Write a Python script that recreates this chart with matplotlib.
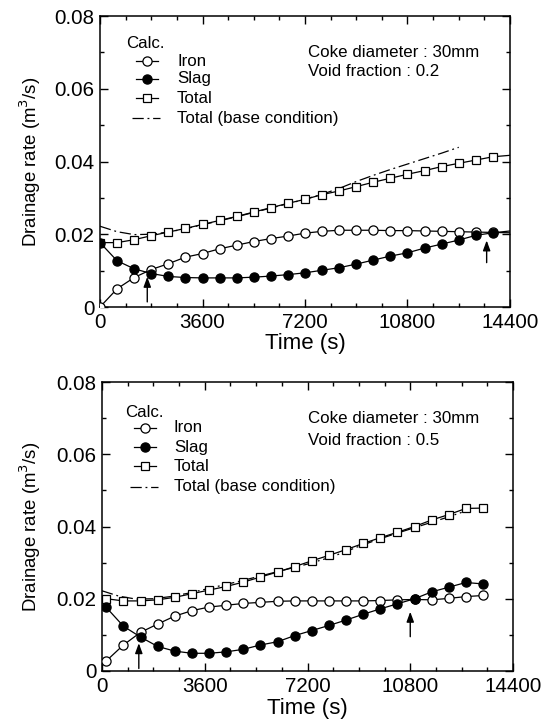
import matplotlib
matplotlib.use("Agg")
import matplotlib.pyplot as plt
from matplotlib.ticker import MultipleLocator, FixedLocator

plt.rcParams['font.family'] = ['Liberation Sans', 'DejaVu Sans']

# ---------------- data ----------------
t_top = [0, 600, 1200, 1800, 2400, 3000, 3600, 4200, 4800, 5400, 6000, 6600, 7200,
         7800, 8400, 9000, 9600, 10200, 10800, 11400, 12000, 12600, 13200, 13800, 14400]
iron_top = [0.0000, 0.0050, 0.0081, 0.0103, 0.0119, 0.0137, 0.0147, 0.0160, 0.0170,
            0.0180, 0.0188, 0.0195, 0.0203, 0.0208, 0.0211, 0.0211, 0.0211, 0.0210,
            0.0210, 0.0209, 0.0208, 0.0207, 0.0206, 0.0205, 0.0204]
slag_top = [0.0177, 0.0127, 0.0105, 0.0092, 0.0084, 0.0081, 0.0080, 0.0080, 0.0080,
            0.0082, 0.0085, 0.0089, 0.0094, 0.0101, 0.0108, 0.0118, 0.0129, 0.0140,
            0.0149, 0.0162, 0.0173, 0.0184, 0.0197, 0.0204, 0.0209]
total_top = [0.0177, 0.0177, 0.0185, 0.0196, 0.0206, 0.0216, 0.0227, 0.0238, 0.0249,
             0.0261, 0.0273, 0.0285, 0.0296, 0.0309, 0.0319, 0.0331, 0.0343, 0.0354,
             0.0365, 0.0375, 0.0386, 0.0395, 0.0404, 0.0413, 0.0417]

t_base = [0, 600, 1200, 1800, 2400, 3000, 3600, 4200, 4800, 5400, 6000, 6600, 7200,
          7800, 8400, 9000, 9600, 10200, 10800, 11400, 12000, 12600]
total_base = [0.0222, 0.0207, 0.0199, 0.0200, 0.0206, 0.0215, 0.0226, 0.0237, 0.0248,
              0.0260, 0.0272, 0.0284, 0.0296, 0.0310, 0.0326, 0.0345, 0.0362, 0.0378,
              0.0393, 0.0408, 0.0423, 0.0439]

t_bot = [150, 750, 1350, 1950, 2550, 3150, 3750, 4350, 4950, 5550, 6150, 6750, 7350,
         7950, 8550, 9150, 9750, 10350, 10950, 11550, 12150, 12750, 13350]
iron_bot = [0.0028, 0.0072, 0.0107, 0.0130, 0.0152, 0.0167, 0.0177, 0.0182, 0.0187,
            0.0190, 0.0193, 0.0194, 0.0194, 0.0194, 0.0194, 0.0194, 0.0195, 0.0197,
            0.0198, 0.0197, 0.0201, 0.0206, 0.0209]
slag_bot = [0.0176, 0.0124, 0.0094, 0.0068, 0.0055, 0.0049, 0.0049, 0.0053, 0.0060,
            0.0072, 0.0081, 0.0098, 0.0112, 0.0126, 0.0141, 0.0157, 0.0172, 0.0186,
            0.0200, 0.0219, 0.0232, 0.0245, 0.0241]
total_bot = [0.0200, 0.0194, 0.0194, 0.0197, 0.0204, 0.0214, 0.0224, 0.0234, 0.0246,
             0.0260, 0.0274, 0.0289, 0.0305, 0.0320, 0.0336, 0.0353, 0.0369, 0.0384,
             0.0400, 0.0418, 0.0433, 0.0450, 0.0451]

# arrows: (time, tail value, head value)
arrows_top = [(1660, 0.0014, 0.0083), (13580, 0.0122, 0.0183)]
arrows_bot = [(1290, 0.0007, 0.0077), (10800, 0.0095, 0.0164)]

x_ticks = [0, 3600, 7200, 10800, 14400]
x_ticklabels = ['0', '3600', '7200', '10800', '14400']
y_ticks = [0, 0.02, 0.04, 0.06, 0.08]
y_ticklabels = ['0', '0.02', '0.04', '0.06', '0.08']

legend_labels = ['Iron', 'Slag', 'Total', 'Total (base condition)']
notes_top = ['Coke diameter : 30mm', 'Void fraction : 0.2']
notes_bot = ['Coke diameter : 30mm', 'Void fraction : 0.5']

# ---------------- figure ----------------
W, H = 555, 727
fig = plt.figure(figsize=(W / 100, H / 100), dpi=100)

ax1 = fig.add_axes([100 / W, 1 - 307 / H, 410 / W, 291 / H])
ax2 = fig.add_axes([102 / W, 1 - 671 / H, 411 / W, 289 / H])

LW = 0.9
MS_C = 6.6
MS_S = 6.4
DASH = (9, 3, 1.5, 3)


def style_axes(ax, xlab_y, ylab_x):
    ax.set_xlim(0, 14400)
    ax.set_ylim(0, 0.08)
    ax.xaxis.set_major_locator(FixedLocator(x_ticks))
    ax.set_xticklabels(x_ticklabels)
    ax.xaxis.set_minor_locator(MultipleLocator(900))
    ax.yaxis.set_major_locator(FixedLocator(y_ticks))
    ax.set_yticklabels(y_ticklabels)
    ax.yaxis.set_minor_locator(MultipleLocator(0.01))
    ax.tick_params(which='both', direction='in', top=True, right=True,
                   width=1.0, labelsize=14.8, colors='black')
    ax.tick_params(which='major', length=5.5, pad=4)
    ax.tick_params(which='minor', length=3)
    for sp in ax.spines.values():
        sp.set_linewidth(1.1)
    ax.set_xlabel('Time (s)', fontsize=16)
    ax.set_ylabel('Drainage rate (m$^3$/s)', fontsize=13.4)
    ax.xaxis.set_label_coords(0.5, xlab_y)
    ax.yaxis.set_label_coords(ylab_x, 0.5)
    ax.xaxis.label.set_va('center')
    ax.yaxis.label.set_va('center')


def draw_series(ax, t, iron, slag, total, n_marks):
    ax.plot(t_base, total_base, color='black', lw=LW, dashes=DASH, zorder=2)
    ax.plot(t, total, color='black', lw=LW, marker='s', ms=MS_S, mfc='white',
            mec='black', mew=0.9, markevery=slice(0, n_marks), zorder=3)
    ax.plot(t, iron, color='black', lw=LW, marker='o', ms=MS_C, mfc='white',
            mec='black', mew=0.9, markevery=slice(0, n_marks), zorder=4)
    ax.plot(t, slag, color='black', lw=LW, marker='o', ms=MS_C, mfc='black',
            mec='black', mew=0.9, markevery=slice(0, n_marks), zorder=5)


def draw_arrows(ax, arrows):
    for (tx, v0, v1) in arrows:
        ax.annotate('', xy=(tx, v1), xytext=(tx, v0),
                    arrowprops=dict(arrowstyle='-|>,head_length=0.6,head_width=0.22',
                                    color='black', lw=1.0, shrinkA=0, shrinkB=0),
                    zorder=6)


def draw_legend(ax, calc_xy, mark_x, line_x0, line_x1, text_x, rows, note_x, note_ys, notes):
    tr = ax.transAxes
    fs = 12.2
    ax.text(calc_xy[0], calc_xy[1], 'Calc.', transform=tr, fontsize=fs,
            ha='left', va='center')
    styles = [('o', 'white'), ('o', 'black'), ('s', 'white')]
    for i, (m, fc) in enumerate(styles):
        y = rows[i]
        ax.plot([line_x0, line_x1], [y, y], color='black', lw=LW, transform=tr,
                clip_on=False)
        ax.plot([mark_x], [y], marker=m, ms=MS_C if m == 'o' else MS_S, mfc=fc,
                mec='black', mew=0.9, transform=tr, clip_on=False, ls='none')
        ax.text(text_x, y, legend_labels[i], transform=tr, fontsize=fs,
                ha='left', va='center')
    y = rows[3]
    ax.plot([line_x0 - 0.01, line_x1 + 0.005], [y, y], color='black', lw=LW,
            dashes=DASH, transform=tr, clip_on=False)
    ax.text(text_x, y, legend_labels[3], transform=tr, fontsize=fs,
            ha='left', va='center')
    for ny, note in zip(note_ys, notes):
        ax.text(note_x, ny, note, transform=tr, fontsize=fs, ha='left', va='center')


draw_series(ax1, t_top, iron_top, slag_top, total_top, 24)
draw_arrows(ax1, arrows_top)
style_axes(ax1, -0.124, -0.171)
draw_legend(ax1, (0.063, 0.907), 0.115, 0.088, 0.142, 0.188,
            [0.845, 0.784, 0.718, 0.649], 0.507, [0.876, 0.808], notes_top)

draw_series(ax2, t_bot, iron_bot, slag_bot, total_bot, 23)
draw_arrows(ax2, arrows_bot)
style_axes(ax2, -0.131, -0.175)
draw_legend(ax2, (0.056, 0.896), 0.105, 0.078, 0.132, 0.175,
            [0.841, 0.775, 0.709, 0.637], 0.500, [0.872, 0.799], notes_bot)

fig.savefig('out.png', dpi=100)
